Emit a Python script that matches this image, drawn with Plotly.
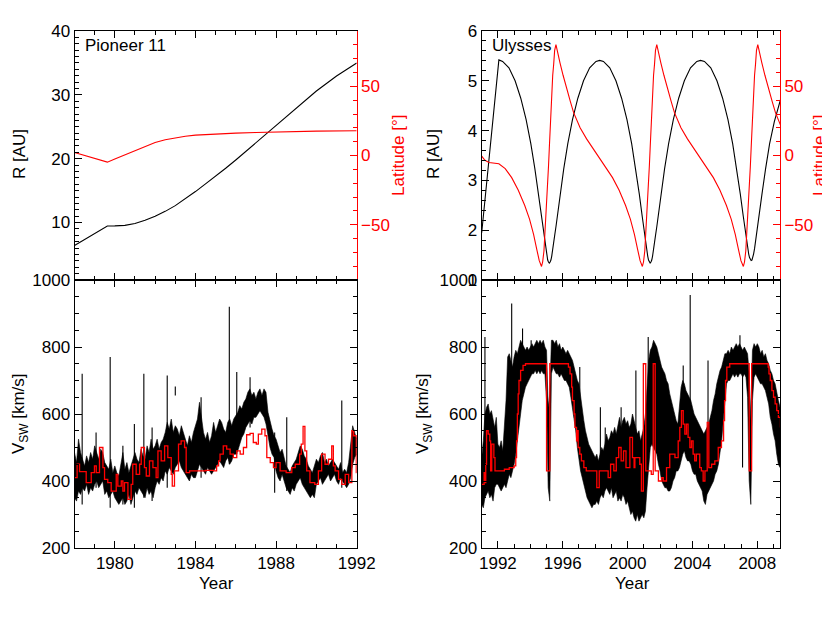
import numpy as np
import plotly.graph_objects as go

FONT = "Liberation Sans, Arial, Helvetica, sans-serif"
RED = "#ff0000"
# the page body keeps its default 8px margin, so the figure is drawn 8px smaller
# (it then ends at the window edge) and every position below is in window pixels
PAGE_W, PAGE_H, BODY = 830, 623, 8
W, H = PAGE_W - BODY, PAGE_H - BODY

# ---------------- Pioneer 11 orbit ----------------
pio_r_year = [1978.0, 1979.63, 1980.0, 1980.5, 1981.0, 1981.5, 1982.0, 1982.5, 1983.0, 1983.5,
              1984.0, 1984.5, 1985.0, 1985.5, 1986.0, 1986.5, 1987.0, 1988.0, 1989.0, 1990.0,
              1991.0, 1992.0]
pio_r = [6.4, 9.45, 9.47, 9.55, 9.85, 10.35, 11.0, 11.75, 12.65, 13.7,
         14.85, 16.05, 17.25, 18.5, 19.8, 21.15, 22.6, 25.3, 28.0, 30.6,
         32.95, 35.0]

pio_lat_year = [1978.0, 1979.63, 1980.0, 1980.5, 1981.0, 1981.5, 1982.0, 1982.5, 1983.0, 1983.5,
                1984.0, 1985.0, 1986.0, 1987.0, 1988.0, 1989.0, 1990.0, 1992.0]
pio_lat = [2.2, -4.8, -2.6, 0.3, 3.3, 6.6, 9.4, 11.4, 12.8, 13.9,
           14.7, 15.6, 16.2, 16.6, 17.0, 17.3, 17.6, 17.9]

# ---------------- Pioneer 11 solar wind speed ----------------
# spread of the daily values, every 0.1 yr from 1978.0
pio_vsw_start = 1978.0
pio_vsw_low = [350, 340, 370, 360, 380, 370, 390, 360, 380, 370,
               390, 400, 380, 390, 400, 360, 370, 350, 360, 370,
               350, 340, 330, 340, 350, 330, 340, 360, 330, 350,
               370, 360, 380, 370, 360, 350, 380, 360, 370, 350,
               380, 400, 390, 410, 400, 430, 420, 440, 430, 420,
               440, 450, 460, 440, 430, 420, 410, 400, 420, 410,
               410, 430, 450, 440, 430, 420, 440, 430, 420, 430,
               440, 450, 460, 450, 440, 460, 470, 450, 460, 480,
               480, 490, 510, 530, 540, 560, 570, 580, 570, 590,
               590, 600, 610, 600, 590, 570, 530, 500, 480, 470,
               430, 410, 400, 420, 400, 380, 370, 360, 380, 370,
               390, 400, 410, 390, 380, 370, 360, 350, 360, 350,
               390, 400, 410, 390, 400, 410, 420, 400, 410, 420,
               400, 390, 410, 400, 390, 380, 390, 410, 450, 470,
               480]
pio_vsw_high = [485, 455, 525, 485, 465, 445, 475, 455, 485, 465,
                505, 485, 465, 495, 485, 455, 445, 435, 465, 425,
                445, 425, 415, 455, 485, 435, 455, 425, 445, 465,
                485, 465, 455, 495, 475, 465, 505, 485, 525, 495,
                505, 525, 495, 515, 525, 545, 575, 555, 585, 545,
                565, 555, 535, 565, 545, 525, 505, 535, 515, 545,
                565, 585, 635, 585, 545, 525, 545, 515, 535, 575,
                545, 565, 585, 575, 555, 545, 575, 585, 565, 585,
                595, 605, 625, 615, 635, 645, 665, 675, 655, 665,
                645, 665, 675, 655, 675, 665, 605, 575, 555, 535,
                525, 505, 485, 495, 465, 445, 435, 425, 445, 455,
                465, 485, 505, 495, 475, 465, 445, 435, 425, 445,
                465, 455, 475, 485, 455, 465, 445, 455, 465, 455,
                445, 435, 455, 425, 435, 425, 455, 505, 565, 545,
                525]
pio_spike_year = [1978.38, 1979.07, 1979.77, 1980.40, 1980.97, 1981.44, 1981.85, 1982.60,
                  1983.00, 1984.28, 1985.68, 1986.05, 1986.71, 1987.93, 1988.53, 1991.26]
pio_spike_low = [330, 380, 320, 330, 320, 350, 340, 380, 655, 410, 450, 480, 560, 365, 370, 380]
pio_spike_top = [720, 545, 770, 505, 570, 720, 560, 715, 682, 650, 920, 725, 710, 545, 590, 640]

pio_model_year = [1978.00, 1978.13, 1978.25, 1978.58, 1978.83, 1978.99, 1979.08, 1979.24, 1979.41, 1979.49,
                  1979.65, 1979.82, 1980.07, 1980.15, 1980.32, 1980.40, 1980.48, 1980.65, 1980.81, 1980.89,
                  1981.06, 1981.23, 1981.31, 1981.47, 1981.56, 1981.72, 1981.89, 1982.05, 1982.14, 1982.30,
                  1982.47, 1982.63, 1982.80, 1982.85, 1982.96, 1983.16, 1983.29, 1983.46, 1983.54, 1983.71,
                  1984.50, 1984.90, 1985.05, 1985.15, 1985.22, 1985.38, 1985.55, 1985.72, 1985.88, 1986.05,
                  1986.22, 1986.38, 1986.54, 1986.71, 1986.87, 1987.02, 1987.12, 1987.29, 1987.45, 1987.54,
                  1987.71, 1987.87, 1988.00, 1988.20, 1988.50, 1988.78, 1988.95, 1989.17, 1989.25, 1989.34,
                  1989.43, 1989.52, 1989.68, 1989.92, 1990.10, 1990.26, 1990.43, 1990.60, 1990.76, 1990.84,
                  1990.93, 1991.10, 1991.26, 1991.43, 1991.60, 1991.76, 1991.85, 1991.98, 1992.00]
pio_model = [410, 450, 428, 395, 425, 445, 425, 500, 440, 405,
             395, 370, 420, 385, 400, 370, 395, 345, 390, 450,
             420, 450, 500, 440, 415, 460, 440, 410, 490, 460,
             505, 470, 420, 385, 430, 510, 520, 500, 425, 430,
             432, 430, 445, 460, 480, 505, 495, 480, 470, 490,
             480, 500, 538, 542, 515, 510, 540, 555, 535, 470,
             455, 440, 455, 430, 425, 440, 450, 480, 510, 563,
             490, 430, 395, 390, 430, 480, 450, 465, 505, 445,
             430, 405, 390, 420, 395, 550, 535, 425, 425]

# ---------------- Ulysses orbit ----------------
uly_r_year = [1991.00, 1991.30, 1991.55, 1991.80, 1992.06, 1992.29, 1992.68, 1993.06, 1993.41, 1993.74,
              1994.03, 1994.28, 1994.50, 1994.68, 1994.76, 1994.84, 1994.90, 1994.96, 1995.02, 1995.07,
              1995.12, 1995.17, 1995.22, 1995.27, 1995.32, 1995.38, 1995.44, 1995.50, 1995.58, 1995.66,
              1995.84, 1996.06, 1996.31, 1996.60, 1996.93, 1997.28, 1997.66, 1998.05, 1998.28, 1998.51,
              1998.90, 1999.28, 1999.63, 1999.96, 2000.25, 2000.50, 2000.72, 2000.90, 2000.98, 2001.06,
              2001.12, 2001.18, 2001.24, 2001.29, 2001.34, 2001.39, 2001.44, 2001.49, 2001.54, 2001.60,
              2001.66, 2001.72, 2001.80, 2001.88, 2002.06, 2002.28, 2002.53, 2002.82, 2003.15, 2003.50,
              2003.88, 2004.27, 2004.50, 2004.74, 2005.13, 2005.51, 2005.86, 2006.19, 2006.48, 2006.73,
              2006.95, 2007.13, 2007.21, 2007.29, 2007.35, 2007.41, 2007.47, 2007.52, 2007.57, 2007.62,
              2007.67, 2007.72, 2007.77, 2007.83, 2007.89, 2007.95, 2008.03, 2008.11, 2008.29, 2008.51,
              2008.76, 2009.05, 2009.43]
uly_r = [1.95, 2.95, 3.85, 4.70, 5.42, 5.39, 5.26, 5.00, 4.65, 4.22,
         3.74, 3.23, 2.73, 2.28, 2.07, 1.89, 1.73, 1.59, 1.48, 1.40,
         1.36, 1.34, 1.36, 1.40, 1.48, 1.59, 1.73, 1.89, 2.07, 2.28,
         2.73, 3.23, 3.74, 4.22, 4.65, 5.00, 5.26, 5.39, 5.41, 5.39,
         5.26, 5.00, 4.65, 4.22, 3.74, 3.23, 2.73, 2.28, 2.07, 1.89,
         1.73, 1.59, 1.48, 1.40, 1.36, 1.34, 1.36, 1.40, 1.48, 1.59,
         1.73, 1.89, 2.07, 2.28, 2.73, 3.23, 3.74, 4.22, 4.65, 5.00,
         5.26, 5.39, 5.41, 5.39, 5.26, 5.00, 4.65, 4.22, 3.74, 3.23,
         2.73, 2.29, 2.09, 1.91, 1.76, 1.63, 1.52, 1.45, 1.40, 1.39,
         1.40, 1.45, 1.52, 1.63, 1.76, 1.91, 2.09, 2.29, 2.73, 3.23,
         3.74, 4.18, 4.62]

uly_lat_year = [1991.00, 1991.20, 1991.45, 1991.80, 1992.06,
                1992.45, 1992.85, 1993.25, 1993.65, 1993.95, 1994.20, 1994.40, 1994.55, 1994.69,
                1994.76, 1994.84, 1994.90, 1994.96, 1995.02, 1995.07, 1995.12, 1995.17, 1995.22, 1995.27,
                1995.32, 1995.38, 1995.44, 1995.50, 1995.58,
                1995.66, 1995.83, 1996.02, 1996.24, 1996.47, 1996.67, 1997.07, 1997.47, 1997.87, 1998.28,
                1998.67, 1999.07, 1999.47, 1999.87, 2000.17, 2000.42, 2000.62, 2000.77, 2000.91,
                2000.98, 2001.06, 2001.12, 2001.18, 2001.24, 2001.29, 2001.34, 2001.39, 2001.44, 2001.49,
                2001.54, 2001.60, 2001.66, 2001.72, 2001.80,
                2001.88, 2002.05, 2002.24, 2002.46, 2002.69, 2002.89, 2003.29, 2003.69, 2004.09, 2004.50,
                2004.89, 2005.29, 2005.69, 2006.09, 2006.39, 2006.64, 2006.84, 2006.99, 2007.14,
                2007.21, 2007.29, 2007.35, 2007.41, 2007.47, 2007.52, 2007.57, 2007.62, 2007.67, 2007.72,
                2007.77, 2007.83, 2007.89, 2007.95, 2008.03,
                2008.11, 2008.28, 2008.47, 2008.69, 2008.92, 2009.12, 2009.43]
uly_lat = [-0.5, -3.5, -5.0, -5.6, -6.0,
           -9.5, -16, -25, -36, -46, -57, -68, -76, -80.2,
           -77, -69, -57, -47, -35, -22, -8, 5, 19, 33,
           46, 58, 66, 76, 80.2,
           75, 67, 58, 48, 39, 31, 20, 12, 5, -2,
           -8.5, -16, -25, -36, -46, -57, -68, -76, -80.2,
           -77, -69, -57, -47, -35, -22, -8, 5, 19, 33,
           46, 58, 66, 76, 80.2,
           75, 67, 58, 48, 39, 31, 20, 12, 5, -2,
           -8.5, -16, -25, -36, -46, -57, -68, -76, -80.2,
           -77, -69, -57, -47, -35, -22, -8, 5, 19, 33,
           46, 58, 66, 76, 80.2,
           75, 67, 58, 48, 39, 31, 22]

# ---------------- Ulysses solar wind speed ----------------
uly_vsw_start = 1991.0
uly_vsw_low = [330, 320, 350, 360, 370, 350, 360, 340, 380, 390,
               390, 380, 370, 380, 390, 380, 400, 420, 410, 430,
               450, 480, 520, 560, 600, 640, 660, 680, 690, 700,
               710, 720, 720, 730, 720, 730, 720, 730, 720, 720,
               640, 380, 340, 720, 740, 730, 720, 720, 710, 720,
               710, 700, 700, 690, 680, 650, 620, 590, 550, 500,
               460, 430, 410, 390, 370, 350, 340, 330, 320, 330,
               330, 340, 330, 350, 360, 350, 370, 380, 370, 360,
               380, 350, 360, 370, 340, 350, 340, 360, 350, 330,
               340, 320, 300, 310, 290, 280, 300, 280, 290, 300,
               290, 310, 380, 450, 500, 510, 500, 490, 480, 450,
               430, 400, 390, 380, 380, 370, 370, 380, 400, 410,
               430, 430, 440, 460, 480, 490, 470, 460, 460, 450,
               430, 420, 420, 400, 390, 380, 370, 340, 330, 360,
               370, 380, 390, 400, 420, 430, 450, 480, 520, 580,
               640, 690, 700, 700, 710, 720, 710, 720, 710, 720,
               720, 710, 720, 710, 650, 400, 330, 640, 710, 720,
               710, 700, 690, 690, 680, 670, 650, 630, 590, 570,
               540, 520, 480, 450, 440]
uly_vsw_high = [470, 520, 600, 620, 630, 600, 610, 580, 560, 590,
                510, 500, 520, 490, 560, 640, 770, 780, 760, 740,
                770, 790, 780, 800, 820, 810, 800, 790, 800, 790,
                800, 810, 800, 810, 820, 810, 820, 810, 820, 800,
                790, 620, 660, 820, 820, 810, 820, 800, 810, 790,
                800, 790, 780, 790, 780, 770, 760, 740, 720, 700,
                690, 650, 620, 580, 550, 530, 510, 500, 490, 480,
                470, 480, 460, 480, 500, 490, 510, 540, 520, 530,
                550, 540, 560, 540, 570, 590, 560, 580, 590, 570,
                580, 560, 570, 600, 580, 560, 540, 550, 520, 540,
                560, 600, 700, 760, 790, 800, 820, 810, 800, 780,
                760, 740, 730, 720, 700, 690, 660, 640, 620, 600,
                580, 570, 640, 680, 700, 690, 670, 660, 650, 640,
                620, 600, 590, 580, 570, 560, 550, 540, 550, 560,
                570, 590, 610, 640, 660, 690, 710, 730, 740, 760,
                780, 780, 790, 780, 800, 790, 800, 810, 800, 810,
                800, 790, 800, 790, 780, 720, 580, 790, 810, 800,
                810, 800, 780, 790, 770, 780, 760, 750, 730, 720,
                700, 690, 660, 640, 620]
uly_spike_year = [1991.20, 1992.85, 1993.52, 1994.05, 1997.05, 1998.32, 1998.62, 1999.60,
                  2000.51, 2001.27, 2003.43, 2003.86, 2004.96, 2006.93, 2007.09]
uly_spike_low = [400, 600, 700, 720, 600, 400, 420, 400, 350, 600, 600, 600, 450, 740, 440]
uly_spike_top = [830, 930, 855, 820, 740, 620, 560, 620, 730, 830, 745, 955, 760, 835, 760]

uly_model_year = [1991.00, 1991.15, 1991.20, 1991.25, 1991.30, 1991.40, 1991.50, 1991.55, 1991.62, 1991.75,
                  1991.82, 1992.40, 1992.70, 1993.00, 1993.10, 1993.15, 1993.20, 1993.25, 1993.30, 1993.40,
                  1993.55, 1993.70, 1995.00, 1995.20, 1996.35, 1996.45, 1996.55, 1996.60, 1996.70, 1996.75,
                  1996.85, 1996.90, 1996.95, 1997.05, 1997.15, 1997.30, 1997.45, 1998.10, 1998.25, 1998.80,
                  1998.95, 1999.15, 1999.30, 1999.45, 1999.60, 1999.75, 1999.90, 2000.14, 2000.30, 2000.40,
                  2000.45, 2000.75, 2000.85, 2000.97, 2001.12, 2001.46, 2001.58, 2001.70, 2001.90, 2002.10,
                  2002.20, 2002.40, 2002.60, 2002.92, 2003.12, 2003.22, 2003.32, 2003.43, 2003.53, 2003.63,
                  2003.73, 2003.84, 2003.94, 2004.04, 2004.14, 2004.24, 2004.45, 2004.55, 2004.66, 2004.77,
                  2004.91, 2005.01, 2005.18, 2005.38, 2005.59, 2005.79, 2005.92, 2005.98, 2006.04, 2006.12,
                  2006.30, 2007.50, 2007.65, 2008.67, 2008.72, 2008.80, 2008.90, 2009.00, 2009.10, 2009.20,
                  2009.30, 2009.43]
uly_model = [390, 425, 395, 450, 550, 540, 520, 430, 510, 470,
             430, 435, 440, 445, 470, 520, 600, 660, 700, 730,
             745, 750, 430, 750, 740, 720, 680, 640, 600, 560,
             520, 550, 500, 480, 460, 440, 430, 380, 430, 410,
             450, 430, 470, 500, 460, 490, 440, 530, 470, 440,
             470, 450, 370, 750, 430, 420, 750, 430, 400, 410,
             400, 440, 480, 470, 520, 560, 610, 570, 540, 570,
             530, 500, 520, 480, 460, 480, 440, 430, 400, 430,
             575, 440, 450, 460, 500, 520, 580, 640, 700, 740,
             750, 430, 750, 740, 720, 700, 670, 650, 630, 610,
             590, 560]

panel_names = ["Pioneer 11", "Ulysses"]


def px(x):
    return (x - BODY) / W


def py(y):
    return 1 - (y - BODY) / H


def band_years(start, n):
    return np.round(start + 0.1 * np.arange(n), 2)


def spike_xy(years, lows, tops):
    xs, ys = [], []
    for t, lo, hi in zip(years, lows, tops):
        xs += [t, t, None]
        ys += [lo, hi, None]
    return xs, ys


fig = go.Figure()


def add_vsw(xa, ya, start, low, high, sp_year, sp_low, sp_top, m_year, m_val):
    t = band_years(start, len(low))
    fig.add_trace(go.Scatter(x=t, y=low, xaxis=xa, yaxis=ya, mode="lines",
                             line=dict(color="black", width=0.6)))
    fig.add_trace(go.Scatter(x=t, y=high, xaxis=xa, yaxis=ya, mode="lines", fill="tonexty",
                             fillcolor="black", line=dict(color="black", width=0.6)))
    sx, sy = spike_xy(sp_year, sp_low, sp_top)
    fig.add_trace(go.Scatter(x=sx, y=sy, xaxis=xa, yaxis=ya, mode="lines",
                             line=dict(color="black", width=1.1)))
    fig.add_trace(go.Scatter(x=m_year, y=m_val, xaxis=xa, yaxis=ya, mode="lines",
                             line=dict(color=RED, width=1.3, shape="hv")))


# top-left: Pioneer 11 distance and latitude
fig.add_trace(go.Scatter(x=pio_r_year, y=pio_r, xaxis="x", yaxis="y", mode="lines",
                         line=dict(color="black", width=1.1)))
fig.add_trace(go.Scatter(x=pio_lat_year, y=pio_lat, xaxis="x", yaxis="y2", mode="lines",
                         line=dict(color=RED, width=1.1)))
# bottom-left
add_vsw("x2", "y3", pio_vsw_start, pio_vsw_low, pio_vsw_high,
        pio_spike_year, pio_spike_low, pio_spike_top, pio_model_year, pio_model)
# top-right: Ulysses
fig.add_trace(go.Scatter(x=uly_r_year, y=uly_r, xaxis="x3", yaxis="y4", mode="lines",
                         line=dict(color="black", width=1.1)))
fig.add_trace(go.Scatter(x=uly_lat_year, y=uly_lat, xaxis="x3", yaxis="y5", mode="lines",
                         line=dict(color=RED, width=1.1)))
# bottom-right
add_vsw("x4", "y6", uly_vsw_start, uly_vsw_low, uly_vsw_high,
        uly_spike_year, uly_spike_low, uly_spike_top, uly_model_year, uly_model)

tick_font = dict(family=FONT, size=17, color="black")
base = dict(ticks="inside", showgrid=False, zeroline=False, showline=True, linecolor="black",
            linewidth=1, ticklen=7, tickwidth=1, tickcolor="black", tickfont=tick_font,
            automargin=False)

left_dom = [px(74.5), px(356.7)]
right_dom = [px(481.7), px(780)]
top_dom = [py(280), py(31)]
bot_dom = [py(548), py(280)]


def xaxis(dom, anchor, rng, majors, labels):
    return dict(base, domain=dom, anchor=anchor, range=rng, mirror="ticks",
                tickmode="array", tickvals=majors, showticklabels=labels,
                minor=dict(ticks="inside", ticklen=4, tickcolor="black", dtick=1, tick0=1978))


def r_axis(dom, anchor, rng, majors, minor_step):
    return dict(base, domain=dom, anchor=anchor, range=rng, mirror=False,
                tickmode="array", tickvals=majors,
                minor=dict(ticks="inside", ticklen=4, tickcolor="black", dtick=minor_step, tick0=0))


def lat_axis(anchor, over):
    return dict(base, anchor=anchor, overlaying=over, side="right", range=[-90, 90],
                linecolor=RED, tickcolor=RED, tickfont=dict(family=FONT, size=17, color=RED),
                tickmode="array", tickvals=[-50, 0, 50],
                minor=dict(ticks="inside", ticklen=4, tickcolor=RED, dtick=10, tick0=0))


def v_axis(dom, anchor):
    return dict(base, domain=dom, anchor=anchor, range=[200, 1000], mirror="ticks",
                tickmode="array", tickvals=[200, 400, 600, 800, 1000],
                minor=dict(ticks="inside", ticklen=4, tickcolor="black", dtick=50, tick0=0))


fig.update_layout(
    width=W, height=H, showlegend=False,
    paper_bgcolor="white", plot_bgcolor="white",
    margin=dict(l=0, r=0, t=0, b=0),
    font=dict(family=FONT, size=17, color="black"),
    xaxis=xaxis(left_dom, "y", [1978, 1992], [1980, 1984, 1988, 1992], False),
    yaxis=r_axis(top_dom, "x", [1, 40], [10, 20, 30, 40], 1),
    yaxis2=lat_axis("x", "y"),
    xaxis2=xaxis(left_dom, "y3", [1978, 1992], [1980, 1984, 1988, 1992], True),
    yaxis3=v_axis(bot_dom, "x2"),
    xaxis3=xaxis(right_dom, "y4", [1991.0, 2009.4], [1992, 1996, 2000, 2004, 2008], False),
    yaxis4=r_axis(top_dom, "x3", [1, 6], [1, 2, 3, 4, 5, 6], 0.2),
    yaxis5=lat_axis("x3", "y4"),
    xaxis4=xaxis(right_dom, "y6", [1991.0, 2009.4], [1992, 1996, 2000, 2004, 2008], True),
    yaxis6=v_axis(bot_dom, "x4"),
)

notes = [
    (panel_names[0], 83, 34, 0, "black", "left", "top"),
    (panel_names[1], 490, 34, 0, "black", "left", "top"),
    ("R [AU]", 19, 154, -90, "black", "center", "middle"),
    ("R [AU]", 433, 154, -90, "black", "center", "middle"),
    ("Latitude [°]", 398, 156, -90, RED, "center", "middle"),
    ("Latitude [°]", 819, 156, -90, RED, "center", "middle"),
    ("V<sub>SW</sub> [km/s]", 20, 414, -90, "black", "center", "middle"),
    ("V<sub>SW</sub> [km/s]", 424, 414, -90, "black", "center", "middle"),
    ("Year", 216, 583, 0, "black", "center", "middle"),
    ("Year", 632, 583, 0, "black", "center", "middle"),
]
for text, x, y, ang, col, xa, ya in notes:
    fig.add_annotation(text=text, x=px(x), y=py(y), xref="paper", yref="paper",
                       showarrow=False, textangle=ang, xanchor=xa, yanchor=ya,
                       font=dict(family=FONT, size=17, color=col))

fig.write_html("out.html")
